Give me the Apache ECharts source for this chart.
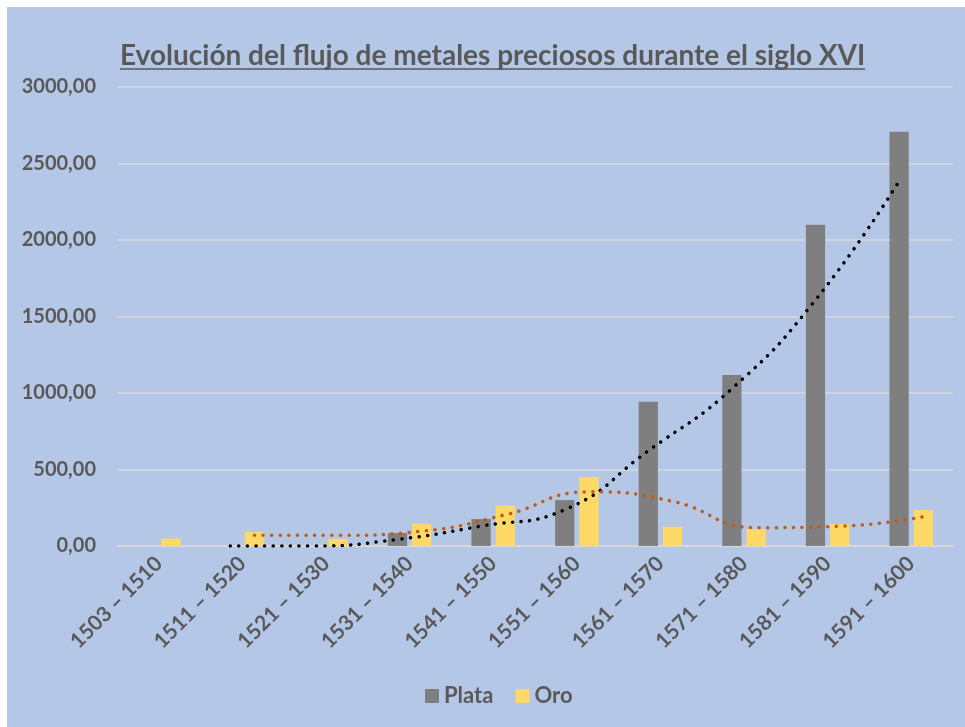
<!DOCTYPE html>
<html>
<head>
<meta charset="utf-8">
<script src="https://cdn.jsdelivr.net/npm/echarts@6/dist/echarts.min.js"></script>
<style>
  html, body { margin: 0; padding: 0; background: #ffffff; }
  #main { position: absolute; left: 7px; top: 7px; width: 958px; height: 720px; }
</style>
</head>
<body>
<div id="main"></div>
<script>
var categories = ['1503 – 1510', '1511 – 1520', '1521 – 1530', '1531 – 1540', '1541 – 1550',
                  '1551 – 1560', '1561 – 1570', '1571 – 1580', '1581 – 1590', '1591 – 1600'];
var plata = [0, 0, 0, 85, 176, 300, 943, 1118, 2100, 2708];
var oro = [48, 92, 46, 146, 264, 451, 126, 111, 144, 235];
// moving average trendlines (2 periods)
var trendPlata = [null, 0, 0, 43, 130, 237, 622, 1028, 1608, 2385];
var trendOro = [null, 70, 70, 97, 204, 354, 292, 120, 129, 191];
var yTicks = [0, 500, 1000, 1500, 2000, 2500, 3000];

var txt = '#595959';
var font = 'Lato';
var catGap = 0.48, barGap = 0.26;
// shift of each bar centre from its category centre, in categories
var shift = (1 - catGap) / (2 + barGap) * (1 + barGap) / 2;

function pts(arr, dx) {
    var out = [];
    for (var i = 0; i < arr.length; i++) {
        if (arr[i] != null) out.push([i + dx, arr[i]]);
    }
    return out;
}

var myChart = echarts.init(document.getElementById('main'));
myChart.setOption({
    backgroundColor: '#B4C7E7',
    animation: false,
    title: {
        text: 'Evolución del flujo de metales preciosos durante el siglo XVI',
        left: 108,
        top: 30,
        textStyle: { fontFamily: font, fontSize: 28, fontWeight: 'bold', color: txt }
    },
    graphic: [{
        type: 'line',
        shape: { x1: 113, y1: 62, x2: 858, y2: 62 },
        style: { stroke: txt, lineWidth: 1.5 }
    }],
    legend: {
        data: ['Plata', 'Oro'],
        left: 413,
        top: 673,
        icon: 'rect',
        itemWidth: 14,
        itemHeight: 14,
        itemGap: 22,
        textStyle: { fontFamily: font, fontSize: 22, fontWeight: 'bold', color: txt }
    },
    grid: { left: 110, right: 12, top: 80, bottom: 181, containLabel: false },
    xAxis: [{
        type: 'category',
        data: categories,
        axisTick: { show: false },
        axisLine: { lineStyle: { color: '#D9D9D9', width: 1.5 } },
        axisLabel: {
            rotate: 45, margin: 14, interval: 0,
            fontFamily: font, fontSize: 21, fontWeight: 'bold', color: txt
        }
    }, {
        type: 'value', min: -0.5, max: 9.5, show: false
    }],
    yAxis: {
        type: 'value',
        min: 0, max: 3000, interval: 500,
        axisLine: { show: false },
        axisTick: { show: false },
        splitLine: { lineStyle: { color: '#D9D9D9', width: 1.5 } },
        axisLabel: {
            margin: 21,
            fontFamily: font, fontSize: 20, fontWeight: 'bold', color: txt,
            formatter: function (v) { return v.toFixed(2).replace('.', ','); }
        }
    },
    series: [{
        name: 'Plata', type: 'bar', data: plata,
        barCategoryGap: (catGap * 100) + '%', barGap: (barGap * 100) + '%',
        itemStyle: { color: '#7F7F7F' }
    }, {
        name: 'Oro', type: 'bar', data: oro,
        itemStyle: { color: '#FFD966' }
    }, {
        name: 'Media Plata', type: 'line', xAxisIndex: 1,
        data: pts(trendPlata, -shift), smooth: 0.5, showSymbol: false,
        lineStyle: { color: '#000000', width: 3.5, type: [0.1, 8.5], cap: 'round' },
        z: 5
    }, {
        name: 'Media Oro', type: 'line', xAxisIndex: 1,
        data: pts(trendOro, shift), smooth: 0.5, showSymbol: false,
        lineStyle: { color: '#C55A11', width: 3.5, type: [0.1, 8.5], cap: 'round' },
        z: 5
    }]
});
</script>
</body>
</html>
